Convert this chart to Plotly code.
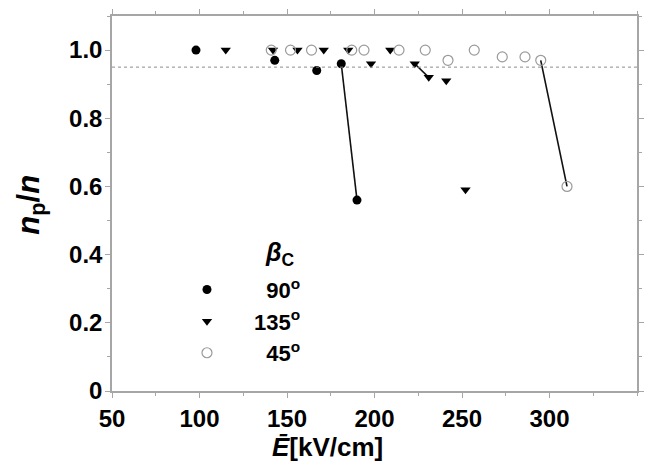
import plotly.graph_objects as go

# Mean field strength E [kV/cm] and particle fraction n_p/n for each angle beta_C
e_90 = [98, 143, 167, 181, 190]
n_90 = [1.0, 0.97, 0.94, 0.96, 0.56]

e_135 = [115, 142, 156, 171, 185, 198, 209, 223, 231, 241, 252]
n_135 = [1.0, 1.0, 1.0, 1.0, 1.0, 0.96, 1.0, 0.96, 0.92, 0.91, 0.59]

e_45 = [141, 152, 164, 187, 194, 214, 229, 242, 257, 273, 286, 295, 310]
n_45 = [1.0, 1.0, 1.0, 1.0, 1.0, 1.0, 1.0, 0.97, 1.0, 0.98, 0.98, 0.97, 0.60]

# index pairs of points joined by a line segment
link_90 = [3, 4]
link_135 = [7, 8]
link_45 = [11, 12]

threshold = 0.95

x_ticks = [50, 100, 150, 200, 250, 300]
y_ticks = [0, 0.2, 0.4, 0.6, 0.8, 1.0]
y_tick_text = ["0", "0.2", "0.4", "0.6", "0.8", "1.0"]

FONT = "Liberation Sans, Arial, sans-serif"
AXIS_GRAY = "#a6a6a6"

fig = go.Figure()

# connecting segments
for ex, ny, link in [(e_90, n_90, link_90), (e_135, n_135, link_135), (e_45, n_45, link_45)]:
    fig.add_trace(go.Scatter(
        x=[ex[i] for i in link], y=[ny[i] for i in link],
        mode="lines", line=dict(color="#111111", width=1.6),
        showlegend=False, hoverinfo="skip",
    ))

# U+2007 (figure space) pads the two-digit labels so the numbers line up on the right
fig.add_trace(go.Scatter(
    x=e_90, y=n_90, mode="markers", name="\u200790<sup>o</sup>",
    marker=dict(symbol="circle", size=9, color="black"),
))
fig.add_trace(go.Scatter(
    x=e_135, y=n_135, mode="markers", name="135<sup>o</sup>",
    marker=dict(symbol="triangle-down", size=9, color="black"),
))
fig.add_trace(go.Scatter(
    x=e_45, y=n_45, mode="markers", name="\u200745<sup>o</sup>",
    marker=dict(symbol="circle-open", size=10, color="#9a9a9a", line=dict(width=1.2)),
))

fig.add_shape(
    type="line", xref="paper", x0=0, x1=1, yref="y", y0=threshold, y1=threshold,
    line=dict(color="#8c8c8c", width=1, dash="dot"),
)

axis_common = dict(
    showline=True, linecolor=AXIS_GRAY, linewidth=1.5, mirror="ticks",
    ticks="outside", ticklen=5, tickwidth=1.2, tickcolor=AXIS_GRAY,
    showgrid=False, zeroline=False,
    tickfont=dict(family=FONT, size=24, color="black", weight="bold"),
)

fig.update_xaxes(
    range=[50, 350], tickvals=x_ticks,
    minor=dict(dtick=25, tick0=50, ticks="outside", ticklen=3, tickcolor=AXIS_GRAY),
    **axis_common,
)
fig.update_yaxes(
    range=[0, 1.1], tickvals=y_ticks, ticktext=y_tick_text,
    ticklabelstandoff=-2,
    minor=dict(dtick=0.1, tick0=0, ticks="outside", ticklen=3, tickcolor=AXIS_GRAY),
    **axis_common,
)

fig.add_annotation(
    text="<i>n</i><sub>p</sub>/<i>n</i>", textangle=-90,
    xref="paper", yref="paper", x=-0.155, y=0.496, showarrow=False,
    font=dict(family=FONT, size=31, color="black", weight="bold"),
    xanchor="center", yanchor="middle",
)
fig.add_annotation(
    text="<i>E\u0304</i>[kV/cm]",
    xref="paper", yref="paper", x=0.41, y=-0.149, showarrow=False,
    font=dict(family=FONT, size=26, color="black", weight="bold"),
    xanchor="center", yanchor="middle",
)
# legend heading
fig.add_annotation(
    text="<i>β</i><sub>C</sub>",
    xref="paper", yref="paper", x=0.352, y=0.365, showarrow=False,
    font=dict(family=FONT, size=25, color="black", weight="bold"),
    xanchor="right", yanchor="middle",
)

fig.update_layout(
    width=645, height=463,
    margin=dict(l=112, r=8, t=16, b=72, autoexpand=False),
    paper_bgcolor="white", plot_bgcolor="white",
    showlegend=True,
    legend=dict(
        x=0.0914, y=0.326, xanchor="left", yanchor="top",
        bgcolor="rgba(0,0,0,0)", borderwidth=0,
        font=dict(family=FONT, size=22, color="black", weight="bold"),
        itemwidth=84, tracegroupgap=0, itemsizing="trace",
    ),
)

fig.write_html("out.html")
